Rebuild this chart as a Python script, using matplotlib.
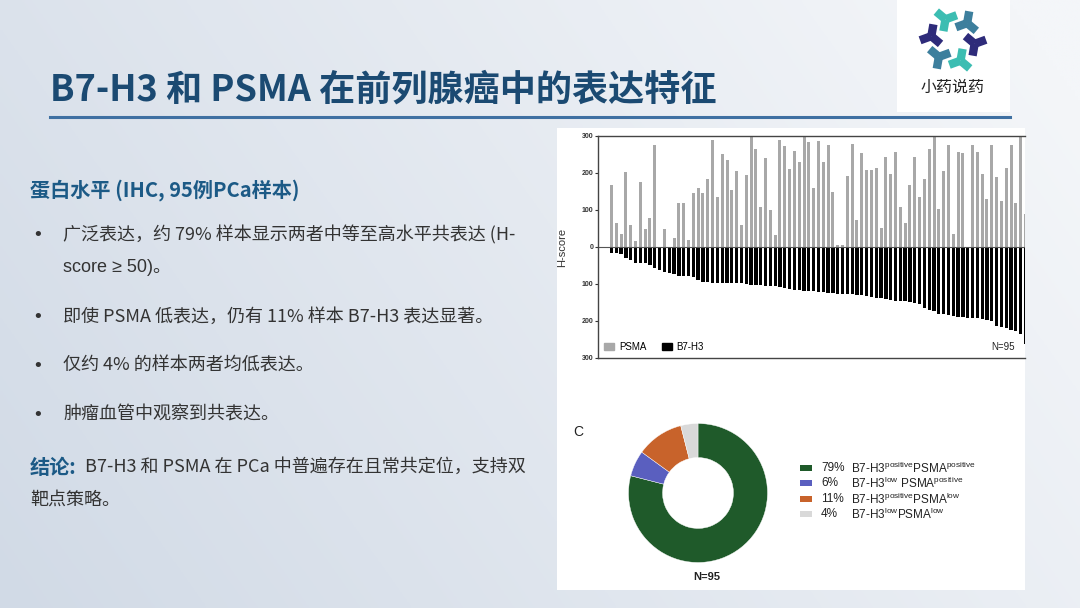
import matplotlib.pyplot as plt
import numpy as np
from matplotlib.patches import Rectangle, Patch
from matplotlib.lines import Line2D
from matplotlib.ticker import FuncFormatter

plt.rcParams['font.family'] = ['Noto Sans CJK SC', 'DejaVu Sans']
plt.rcParams['mathtext.fontset'] = 'custom'
plt.rcParams['mathtext.rm'] = 'Liberation Sans'
plt.rcParams['mathtext.it'] = 'Liberation Sans:italic'
plt.rcParams['mathtext.bf'] = 'Liberation Sans:bold'

# ---- data ----
title = 'B7-H3 和 PSMA 在前列腺癌中的表达特征'
heading = '蛋白水平 (IHC, 95例PCa样本)'
bullet_lines = [
    ['广泛表达，约 79% 样本显示两者中等至高水平共表达 (H-', 'score ≥ 50)。'],
    ['即使 PSMA 低表达，仍有 11% 样本 B7-H3 表达显著。'],
    ['仅约 4% 的样本两者均低表达。'],
    ['肿瘤血管中观察到共表达。'],
]
concl_head = '结论:'
concl_lines = ['B7-H3 和 PSMA 在 PCa 中普遍存在且常共定位，支持双', '靶点策略。']

series_names = ['PSMA', 'B7-H3']
psma = [168, 65, 36, 204, 59, 17, 175, 48, 79, 275, 0, 48, 0, 25, 120, 120, 18, 146, 160, 146,
        184, 290, 136, 250, 235, 154, 205, 60, 195, 300, 265, 108, 240, 100, 33, 290, 272, 210, 260, 230,
        296, 284, 159, 286, 229, 275, 148, 5, 5, 191, 279, 72, 254, 208, 208, 213, 52, 243, 198, 258,
        108, 66, 168, 243, 135, 184, 265, 300, 103, 205, 275, 34, 258, 255, 0, 275, 258, 198, 129, 275,
        188, 124, 214, 275, 118, 300, 90]
b7h3 = [15, 15, 20, 30, 34, 42, 44, 44, 48, 56, 61, 68, 70, 72, 79, 79, 79, 80, 90, 94,
        95, 96, 96, 96, 97, 97, 98, 98, 100, 103, 104, 104, 105, 105, 106, 109, 111, 114, 116, 117,
        118, 119, 120, 122, 122, 123, 124, 126, 126, 127, 128, 130, 131, 132, 134, 137, 139, 141, 143, 145,
        146, 147, 150, 152, 155, 166, 170, 174, 180, 182, 185, 187, 188, 189, 191, 192, 193, 195, 197, 199,
        213, 217, 220, 223, 227, 236, 262]
n_total = 95

donut_pct = [79, 6, 11, 4]
donut_labels = [r'B7-H3$^{\mathrm{positive}}$PSMA$^{\mathrm{positive}}$',
                r'B7-H3$^{\mathrm{low}}$ PSMA$^{\mathrm{positive}}$',
                r'B7-H3$^{\mathrm{positive}}$PSMA$^{\mathrm{low}}$',
                r'B7-H3$^{\mathrm{low}}$PSMA$^{\mathrm{low}}$']
donut_colors = ['#1f5a2a', '#5a5fbf', '#c8632b', '#d9d9d9']

W, H = 1080, 608


def fx(x):
    return x / W


def fy(y):
    return 1 - y / H


fig = plt.figure(figsize=(W / 100, H / 100), dpi=100)

# background gradient
bg = fig.add_axes([0, 0, 1, 1], zorder=-10)
gx, gy = np.meshgrid(np.linspace(0, 1, 300), np.linspace(0, 1, 300))
t = np.clip(0.75 * gx + 0.3 * (1 - gy), 0, 1)
c0 = np.array([0xd1, 0xda, 0xe6]) / 255
c1 = np.array([0xf4, 0xf6, 0xf9]) / 255
bg.imshow(c0 + (c1 - c0) * t[..., None], extent=[0, 1, 0, 1], aspect='auto', origin='upper')
bg.axis('off')

# title + rule
fig.text(fx(50), fy(90), title, fontsize=26, fontweight='heavy', color='#1b4a72', va='center')
fig.add_artist(Line2D([fx(50), fx(1010)], [fy(117), fy(117)], color='#3f70a2', lw=2.2))

# logo
fig.add_artist(Rectangle((fx(897), fy(112)), 113 / W, 112 / H, facecolor='white',
                         edgecolor='none', transform=fig.transFigure, zorder=-5))
lax = fig.add_axes([fx(897), fy(112), 113 / W, 112 / H])
lax.set_xlim(897, 1010)
lax.set_ylim(112, 0)
lax.axis('off')
logo_cols = ['#3cbdb2', '#2e2b7a', '#3d7f9d', '#3cbdb2', '#2e2b7a', '#3d7f9d']
for k in range(6):
    a = np.deg2rad(110 + 60 * k)
    cx, cy = 953 + 22 * np.cos(a), 40 - 22 * np.sin(a)
    for j in range(3):
        b = a + np.deg2rad(30 + 120 * j)
        lax.plot([cx, cx + 12 * np.cos(b)], [cy, cy - 12 * np.sin(b)], color=logo_cols[k],
                 lw=6, solid_capstyle='butt')
fig.text(fx(953), fy(87), '小药说药', fontsize=11.5, color='#222222', ha='center', va='center')

# left text
fig.text(fx(30), fy(190), heading, fontsize=14.5, fontweight='bold', color='#1c5a86', va='center')
ys = [[235, 268], [317], [366], [415]]
for lines, yy in zip(bullet_lines, ys):
    fig.text(fx(32), fy(yy[0]), '•', fontsize=13, color='#333333', va='center',
             family=['DejaVu Sans'])
    for s, y in zip(lines, yy):
        fig.text(fx(63), fy(y), s, fontsize=13, color='#333333', va='center',
                 family=['Liberation Sans', 'Noto Sans CJK SC'] if '≥' in s else None)
fig.text(fx(30), fy(467), concl_head, fontsize=14.5, fontweight='bold', color='#1c5a86', va='center')
fig.text(fx(85), fy(467), concl_lines[0], fontsize=13, color='#333333', va='center')
fig.text(fx(30), fy(500), concl_lines[1], fontsize=13, color='#333333', va='center')

# white panel
fig.add_artist(Rectangle((fx(557), fy(590)), 468 / W, 462 / H, facecolor='white',
                         edgecolor='none', transform=fig.transFigure, zorder=-5))

# bar chart
ax = fig.add_axes([fx(598), fy(358), 427 / W, 222 / H])
ax.patch.set_alpha(0)
x = np.arange(len(psma))
ax.bar(x, psma, width=0.62, color='#a8a8a8', label=series_names[0])
ax.bar(x, [-v for v in b7h3], width=0.68, color='black', label=series_names[1])
ax.axhline(0, color='#555555', lw=0.8)
ax.set_ylim(-300, 300)
ax.set_xlim(-2.8, 85.9)
ax.set_xticks([])
ax.set_yticks([-300, -200, -100, 0, 100, 200, 300])
ax.yaxis.set_major_formatter(FuncFormatter(lambda v, p: f'{abs(int(v))}'))
ax.tick_params(axis='y', labelsize=5, length=2.5, width=0.8, pad=1, colors='#333333')
for lbl in ax.get_yticklabels():
    lbl.set_fontweight('bold')
    lbl.set_fontfamily('Liberation Sans')
ax.spines['right'].set_visible(False)
for s in ['left', 'top', 'bottom']:
    ax.spines[s].set_color('#444444')
    ax.spines[s].set_linewidth(1)
ax.set_ylabel('H-score', fontsize=8, fontfamily='Liberation Sans', color='#333333')
ax.yaxis.set_label_coords((567 - 598) / 427, 0.5)
ax.legend(handles=[Patch(color='#a8a8a8', label=series_names[0]), Patch(color='black', label=series_names[1])],
          loc='lower left', ncol=2, frameon=False, handlelength=1.0, handleheight=0.7,
          columnspacing=1.6, handletextpad=0.5, borderaxespad=0.25,
          prop={'family': 'Liberation Sans', 'size': 7})
ax.text(0.975, 0.025, f'N={n_total}', transform=ax.transAxes, ha='right', va='bottom',
        fontsize=7, fontfamily='Liberation Sans', color='#222222')

# donut
dax = fig.add_axes([fx(628.5), fy(562.5), 139 / W, 139 / H])
dax.pie(donut_pct, colors=donut_colors, startangle=90, counterclock=False,
        wedgeprops=dict(width=0.49, edgecolor='white', linewidth=0.3))
dax.set_xlim(-1, 1)
dax.set_ylim(-1, 1)
fig.text(fx(573), fy(432), 'C', fontsize=10, fontfamily='Liberation Sans', color='#222222', va='center')
fig.text(fx(707), fy(577), f'N={n_total}', fontsize=8, fontweight='bold', fontfamily='Liberation Sans',
         color='#222222', ha='center', va='center')

row_y = [468, 483, 499, 514]
for p, lab, col, y in zip(donut_pct, donut_labels, donut_colors, row_y):
    fig.add_artist(Rectangle((fx(800), fy(y + 3)), 12 / W, 6 / H, facecolor=col, edgecolor='none',
                             transform=fig.transFigure))
    fig.text(fx(821), fy(y), f'{p}%', fontsize=8.5, fontfamily='Liberation Sans', color='#222222', va='center')
    fig.text(fx(851), fy(y), lab, fontsize=8.5, fontfamily='Liberation Sans', color='#222222', va='center')

fig.savefig('out.png', dpi=100)
